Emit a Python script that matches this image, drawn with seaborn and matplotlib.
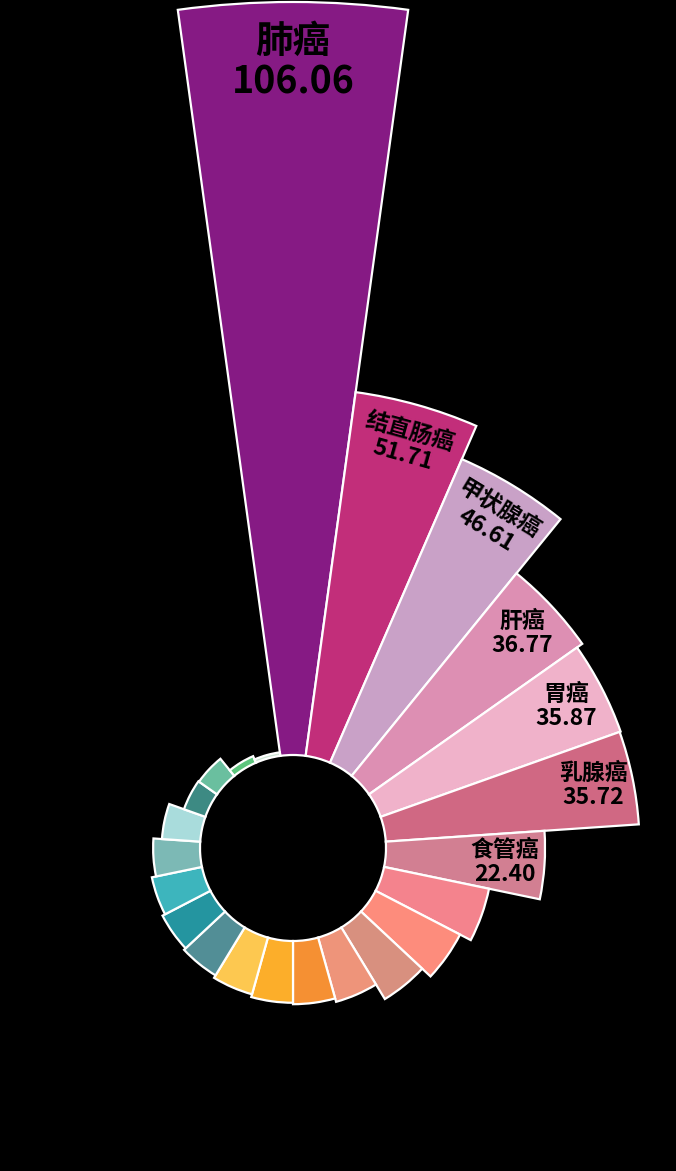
import numpy as np
import matplotlib
matplotlib.use("Agg")
import matplotlib.pyplot as plt
import seaborn as sns

# 数据（从图上读取/估计）
cancers = ["肺癌", "结直肠癌", "甲状腺癌", "肝癌", "胃癌", "乳腺癌", "食管癌",
           "宫颈癌", "胰腺癌", "前列腺癌", "膀胱癌", "淋巴瘤", "脑瘤", "肾癌",
           "白血病", "子宫癌", "卵巢癌", "胆囊癌", "喉癌", "口腔癌", "鼻咽癌",
           "骨癌", "皮肤癌"]
rates = [106.06, 51.71, 46.61, 36.77, 35.87, 35.72, 22.40,
         15.1, 13.4, 11.8, 9.4, 8.9, 8.7, 8.3,
         7.9, 7.6, 7.2, 6.6, 5.4, 3.2, 3.1, 1.0, 0.5]
colors = ["#861a84", "#c22e7a", "#c9a1c7", "#dd8fb3", "#f0b2ca", "#d06883", "#d27f92",
          "#f4838d", "#fd8c7c", "#d8907f", "#ee947a", "#f59033", "#fcae2a", "#fdc850",
          "#528e96", "#2495a0", "#3db5bd", "#7cb9b5", "#a9dcdc", "#3d8a83", "#6abf9f",
          "#5cc57c", "#cfe6d6"]
n_labeled = 7
label_rot = [0, -15.65, -31.3, 0, 0, 0, 0]

sns.set_theme(style="dark", rc={"figure.facecolor": "black", "axes.facecolor": "black"})
plt.rcParams['font.family'] = ['Noto Sans CJK SC', 'DejaVu Sans']

W, H, DPI = 676, 1171, 100
fig = plt.figure(figsize=(W / DPI, H / DPI), dpi=DPI, facecolor="black")

# 极坐标：1 单位 = 7.1 像素，中心 (293, 848)
scale = 7.1
cx, cy = 293, 848
rmax = 120
half = rmax * scale
ax = fig.add_axes([(cx - half) / W, (H - cy - half) / H, 2 * half / W, 2 * half / H],
                  projection="polar")
ax.set_facecolor("black")
ax.set_theta_zero_location("N")
ax.set_theta_direction(-1)
ax.set_ylim(0, rmax)

hole = 93 / scale
n = len(rates)
width = 2 * np.pi / n
theta = np.arange(n) * width

ax.bar(theta, rates, width=width, bottom=hole, color=colors,
       edgecolor="white", linewidth=1.6, align="center")

for i in range(n_labeled):
    big = i == 0
    off = (60 if big else 40) / scale
    r = hole + rates[i] - off
    ax.text(theta[i], r, f"{cancers[i]}\n{rates[i]:.2f}",
            ha="center", va="center", multialignment="center",
            rotation=label_rot[i], rotation_mode="anchor",
            fontsize=27 if big else 16.5, fontweight="bold",
            color="black", linespacing=1.05)

ax.grid(False)
ax.set_xticks([])
ax.set_yticks([])
ax.spines["polar"].set_visible(False)

fig.savefig("out.png", dpi=DPI, facecolor="black")
